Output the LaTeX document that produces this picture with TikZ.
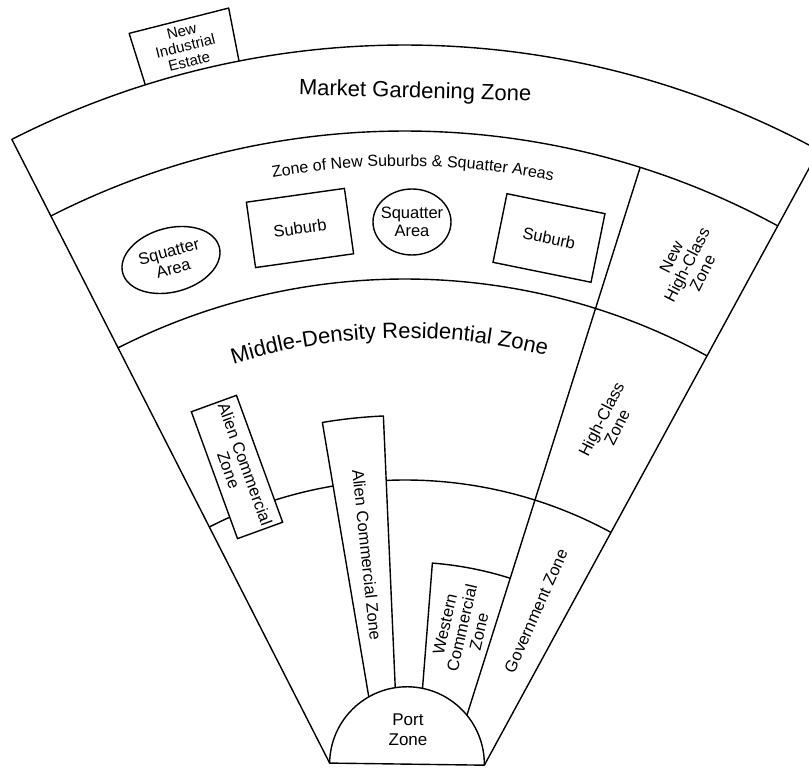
\documentclass[tikz,border=0pt]{standalone}
\usepackage{fontspec}
\setmainfont{Liberation Sans}
\usetikzlibrary{decorations.text,shapes.geometric}
\begin{document}
\begin{tikzpicture}[
  zone/.style={line width=1.4pt, line join=round},
  lbl/.style={font=\fontsize{16.5}{17.5}\selectfont, align=center, inner sep=0pt},
  biglbl/.style={font=\fontsize{22}{24}\selectfont, inner sep=0pt},
  boxy/.style={draw, line width=1.4pt, fill=white, align=center, inner sep=0pt, font=\fontsize{16.5}{17.5}\selectfont},
  oval/.style={draw, ellipse, line width=1.4pt, inner sep=0pt},
]
\useasboundingbox (-405pt,140pt) rectangle (404pt,911pt);
\fill[white] (-405pt,140pt) rectangle (404pt,911pt);

% base corners of the fan
\coordinate (BL) at (117:166pt);
\coordinate (BR) at (61.45:166pt);

% outer fan and ring boundaries
\draw[zone] (BL) -- (117:866pt) arc[start angle=117, end angle=61.45, radius=866pt] -- (BR);
\draw[zone] (117:780pt) arc[start angle=117, end angle=61.45, radius=780pt];
\draw[zone] (117:632pt) arc[start angle=117, end angle=61.45, radius=632pt];
\draw[zone] (117:431pt) arc[start angle=117, end angle=61.45, radius=431pt];
% radial divider (high-class sector)
\draw[zone] (72.45:205.4pt) -- (72.45:780pt);

% Western commercial zone
\draw[zone] (85.5:223.3pt) -- (85.5:349pt) arc[start angle=85.5, end angle=72.45, radius=349pt];
% long alien commercial strip
\draw[zone, fill=white] (99.6:217.2pt) -- (99.6:495.5pt) arc[start angle=99.6, end angle=92.5, radius=495.5pt] -- (92.5:223.5pt);

% new industrial estate
\draw[zone] (107.45:866pt) -- (107.45:920pt) -- (101.05:920pt) -- (101.05:866pt);
\node[lbl, font=\fontsize{15}{15.5}\selectfont, rotate=14] (nie) at (104.25:892pt) {New\\Industrial\\Estate};

% port zone
\draw[zone, fill=white] (BR) arc[start angle=-0.78, end angle=179.22, radius=77.36pt] -- cycle;
\node[lbl, font=\fontsize{17}{20}\selectfont] (port) at (3pt,181pt) {Port\\Zone};

% ring labels
\node[biglbl, anchor=base, rotate=-1.5] (mgz) at (10pt,813pt) {Market Gardening Zone};
\path[decorate, decoration={text along path, text align=center,
  text={|\fontsize{16}{16}\selectfont|Zone of New Suburbs {\&} Squatter Areas}}]
  (119.4:745pt) arc[start angle=119.4, end angle=59.4, radius=745pt];
\path[decorate, decoration={text along path, text align=center,
  text={|\fontsize{22}{22}\selectfont|Middle-Density Residential Zone}}]
  (121.6:573pt) arc[start angle=121.6, end angle=61.6, radius=573pt];

% suburbs and squatter areas
\node[oval, rotate=15, minimum width=100pt, minimum height=64pt] (sq1) at (-234pt,651pt) {};
\node[lbl, rotate=15] (sq1t) at (sq1.center) {Squatter\\Area};
\node[boxy, rotate=8, minimum width=99pt, minimum height=66pt] (sub1) at (-105pt,683pt) {Suburb};
\node[oval, minimum width=78pt, minimum height=66pt] (sq2) at (7pt,689pt) {};
\node[lbl] (sq2t) at (sq2.center) {Squatter\\Area};
\node[boxy, rotate=-11.5, minimum width=100pt, minimum height=70pt] (sub2) at (144pt,673pt) {Suburb};

% alien commercial box (left)
\node[boxy, rotate=-70, minimum width=135pt, minimum height=48pt] (ac1) at (-168pt,444pt) {Alien Commercial\\Zone};

% sector labels
\node[lbl, rotate=-84] (ac2t) at (96.1:358pt) {Alien Commercial Zone};
\node[lbl, rotate=77] (wcz) at (57pt,283pt) {Western\\Commercial\\Zone};
\node[lbl, rotate=66] (gov) at (131pt,300pt) {Government Zone};
\node[lbl, rotate=63] (hcz) at (204pt,488pt) {High-Class\\Zone};
\node[lbl, rotate=63] (nhcz) at (282pt,646pt) {New\\High-Class\\Zone};
\end{tikzpicture}
\end{document}
